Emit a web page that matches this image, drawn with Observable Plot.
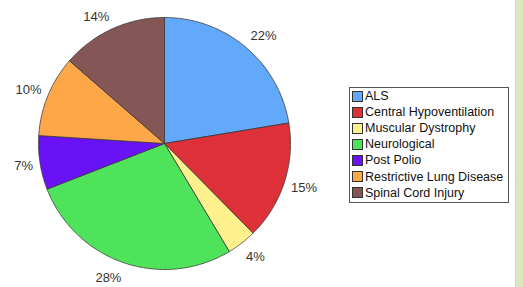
<!DOCTYPE html>
<html><head><meta charset="utf-8">
<script src="https://cdn.jsdelivr.net/npm/d3@7"></script>
<script src="https://cdn.jsdelivr.net/npm/@observablehq/plot@0.6"></script>
<style>
html,body{margin:0;padding:0;background:#fff;}
#wrap{position:relative;width:523px;height:287px;overflow:hidden;font-family:"Liberation Sans",Arial,sans-serif;}
#strip{position:absolute;left:515px;top:0;width:8px;height:287px;background:#d9e8bf;border-left:1px solid #cddfb3;box-sizing:border-box;}
#legend{position:absolute;left:349px;top:87px;width:160px;height:116px;border:1px solid #555;box-sizing:border-box;padding:0 0 0 2px;background:#fff;}
.item{display:flex;align-items:center;height:16.1px;font-size:12.5px;color:#111;white-space:nowrap;}
.sw{width:11px;height:11px;border:1px solid #333;margin-right:2px;box-sizing:border-box;flex:none;}
</style></head>
<body>
<div id="wrap"><div id="chart"></div><div id="legend"></div><div id="strip"></div></div>
<script>
const categories = ["ALS","Central Hypoventilation","Muscular Dystrophy","Neurological","Post Polio","Restrictive Lung Disease","Spinal Cord Injury"];
const shares = [22.4, 15.2, 3.8, 27.7, 6.9, 10.4, 13.6];
const labels = ["22%","15%","4%","28%","7%","10%","14%"];
const colors = ["#62a8fb","#de3038","#fef08c","#4ee35a","#6a12f6","#fda748","#855656"];

const R = 126, cx = 164, cy = 143, W = 523, H = 287, FS = 13;
const arcs = d3.pie().sort(null).value(d => d)(shares);
const pts = [];
arcs.forEach((a, i) => {
  const name = categories[i];
  pts.push({name, x: 0, y: 0});
  const n = Math.max(2, Math.ceil((a.endAngle - a.startAngle) / 0.01));
  for (let k = 0; k <= n; k++) {
    const t = a.startAngle + (a.endAngle - a.startAngle) * k / n;
    pts.push({name, x: Math.sin(t), y: Math.cos(t)});
  }
  pts.push({name, x: 0, y: 0});
});
// label boxes sit just outside the rim, nearest corner towards the slice middle
const lab = arcs.map((a, i) => {
  const m = (a.startAngle + a.endAngle) / 2;
  const s = Math.sin(m), c = Math.cos(m);
  const w = FS * (0.556 * (labels[i].length - 1) + 0.889);
  const px = 133 * s + Math.sign(s) * w / 2;
  const py = 133 * c + (c > 0 ? 6 : 8) * Math.max(-1, Math.min(1, 1.3 * c));
  return {text: labels[i], x: px / R, y: py / R};
});

const chart = Plot.plot({
  width: W, height: H, margin: 0,
  style: {fontFamily: "Liberation Sans, Arial, sans-serif", fontSize: "13px", background: "transparent"},
  x: {domain: [-cx / R, (W - cx) / R], axis: null},
  y: {domain: [-(H - cy) / R, cy / R], axis: null},
  color: {domain: categories, range: colors},
  marks: [
    Plot.line(pts, {x: "x", y: "y", z: "name", fill: "name", stroke: "#3a3a3a", strokeWidth: 0.8, strokeLinejoin: "miter"}),
    Plot.text(lab, {x: "x", y: "y", text: "text", fill: "#333", fontSize: FS})
  ]
});
document.getElementById("chart").appendChild(chart);

const leg = document.getElementById("legend");
categories.forEach((c, i) => {
  const d = document.createElement("div");
  d.className = "item";
  d.innerHTML = `<span class="sw" style="background:${colors[i]}"></span><span>${c}</span>`;
  leg.appendChild(d);
});
</script>
</body></html>
